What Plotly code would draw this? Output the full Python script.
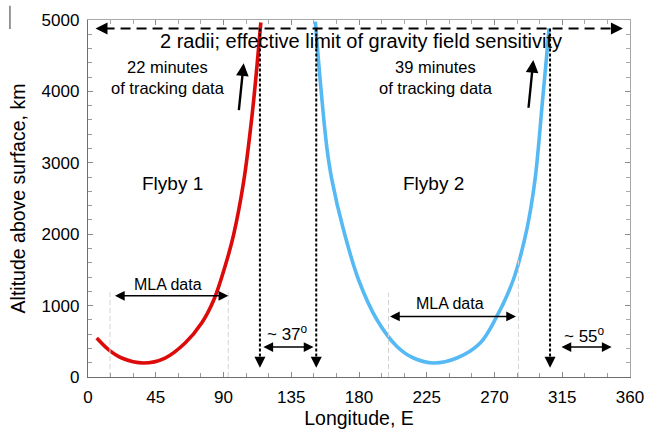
import plotly.graph_objects as go

# ---- data -------------------------------------------------------------
# Flyby 1: spacecraft altitude above surface (km) vs. longitude E (deg)
flyby1_lon = [5.8, 13.6, 22.4, 36.8, 51.2, 64.5, 75.5, 83.6, 91.0, 96.7,
              103.4, 109.0, 112.3, 114.8]
flyby1_alt = [546, 384, 266, 196, 266, 476, 756, 1082, 1548, 1991, 2737, 3671,
              4370, 4965]

# Flyby 2
flyby2_lon = [151.0, 154.3, 158.7, 162.0, 169.7, 179.7, 191.9, 205.2, 216.2,
              229.5, 245.0, 260.5, 271.5, 282.5, 291.4, 296.9, 301.8, 304.7,
              306.2]
flyby2_alt = [4976, 4137, 3205, 2762, 2062, 1362, 802, 428, 266, 196, 266, 476,
              848, 1362, 2062, 2762, 3850, 4510, 4884]

# 2 Mercury radii altitude: effective limit of gravity-field sensitivity
limit_alt = 4880
limit_span = [5.0, 355.3]            # extent of the horizontal limit arrow
crossing_lon = [114.2, 151.6, 306.9]  # where the tracks cross the limit
crossing_tip_alt = 130

# MLA data coverage (longitude span, arrow altitude, guide-line tops)
mla1_lon = [16.9, 93.2]
mla1_guides = [14.6, 93.2]
mla1_alt = 1138
mla1_guide_top = [1200, 1200]
mla2_lon = [199.6, 284.3]
mla2_guides = [199.6, 285.9]
mla2_alt = 848
mla2_guide_top = [1180, 1700]

# Longitude gaps between coverage
gap_spans = [[115.5, 149.8], [313.5, 347.8]]
gap_alt = 420
gap_labels = ["~ 37<sup>o</sup>", "~ 55<sup>o</sup>"]
gap_label_pos = [(132.4, 616), (330.1, 592)]

# Tracking-data arrows: (tail lon, tail alt, tip lon, tip alt)
tracking_arrows = [(100.1, 3717, 103.4, 4394), (292.5, 3750, 295.8, 4440)]

x_ticks = [0, 45, 90, 135, 180, 225, 270, 315, 360]
y_ticks = [0, 1000, 2000, 3000, 4000, 5000]

# ---- styling ------------------------------------------------------------
FONT = "Liberation Sans, Arial, Helvetica, sans-serif"
RED = "#dd0a0a"
BLUE = "#55b9f4"

fig = go.Figure()

# flyby tracks
fig.add_trace(go.Scatter(x=flyby1_lon, y=flyby1_alt, mode="lines",
                         line=dict(color=RED, width=3.6, shape="spline",
                                   smoothing=1.0),
                         hoverinfo="skip"))
fig.add_trace(go.Scatter(x=flyby2_lon, y=flyby2_alt, mode="lines",
                         line=dict(color=BLUE, width=3.6, shape="spline",
                                   smoothing=1.0),
                         hoverinfo="skip"))

# MLA grey guide lines
for guides, tops in ((mla1_guides, mla1_guide_top), (mla2_guides, mla2_guide_top)):
    for gx, top in zip(guides, tops):
        fig.add_trace(go.Scatter(x=[gx, gx], y=[0, top], mode="lines",
                                 line=dict(color="#d4d4d4", width=1, dash="5px,3px"),
                                 hoverinfo="skip"))

# horizontal limit line with arrowheads at both ends
fig.add_trace(go.Scatter(x=[limit_span[0] + 6, limit_span[1] - 6],
                         y=[limit_alt, limit_alt], mode="lines",
                         line=dict(color="black", width=2, dash="10px,6px"),
                         hoverinfo="skip"))
fig.add_trace(go.Scatter(x=[limit_span[0]], y=[limit_alt], mode="markers",
                         marker=dict(symbol="arrow-left", size=12, color="black",
                                     line=dict(width=0)),
                         hoverinfo="skip"))
fig.add_trace(go.Scatter(x=[limit_span[1]], y=[limit_alt], mode="markers",
                         marker=dict(symbol="arrow-right", size=12, color="black",
                                     line=dict(width=0)),
                         hoverinfo="skip"))

# vertical dashed drop lines at the limit crossings
for cx in crossing_lon:
    fig.add_trace(go.Scatter(x=[cx, cx], y=[limit_alt, crossing_tip_alt + 120],
                             mode="lines",
                             line=dict(color="black", width=2, dash="3px,2px"),
                             hoverinfo="skip"))
fig.add_trace(go.Scatter(x=crossing_lon, y=[crossing_tip_alt] * len(crossing_lon),
                         mode="markers",
                         marker=dict(symbol="arrow-down", size=11, color="black",
                                     line=dict(width=0)),
                         hoverinfo="skip"))

# frame: top and right axes carrying mirrored ticks
fig.add_trace(go.Scatter(x=[0], y=[0], xaxis="x2", yaxis="y2", mode="markers",
                         marker=dict(opacity=0), hoverinfo="skip"))

annotations = []


def text(x, y, s, size):
    annotations.append(dict(x=x, y=y, xref="x", yref="y", text=s, showarrow=False,
                            xanchor="center", yanchor="middle", align="center",
                            font=dict(family=FONT, size=size, color="black")))


def double_arrow(x0, x1, y, width=1.5, size=1.3):
    annotations.append(dict(x=x1, y=y, ax=x0, ay=y, xref="x", yref="y",
                            axref="x", ayref="y", text="", showarrow=True,
                            arrowside="end+start", arrowhead=2, startarrowhead=2,
                            arrowsize=size, startarrowsize=size,
                            arrowwidth=width, arrowcolor="black"))


text(181.4, 4700, "2 radii; effective limit of gravity field sensitivity", 20)
text(53.4, 4200, "22 minutes<br>of tracking data", 16.5)
text(231.4, 4200, "39 minutes<br>of tracking data", 16.5)
text(55.9, 2715, "Flyby 1", 19)
text(229.5, 2715, "Flyby 2", 19)
text(53.1, 1301, "MLA data", 16)
text(240.3, 1036, "MLA data", 16)
for (lx, ly), lab in zip(gap_label_pos, gap_labels):
    text(lx, ly, lab, 17)

double_arrow(mla1_lon[0], mla1_lon[1], mla1_alt)
double_arrow(mla2_lon[0], mla2_lon[1], mla2_alt)
for g in gap_spans:
    double_arrow(g[0], g[1], gap_alt)

for tx, ty, hx, hy in tracking_arrows:
    annotations.append(dict(x=hx, y=hy, ax=tx, ay=ty, xref="x", yref="y",
                            axref="x", ayref="y", text="", showarrow=True,
                            arrowhead=2, arrowsize=1.05, arrowwidth=2.4,
                            arrowcolor="black"))

axis_common = dict(showgrid=False, zeroline=False, ticks="inside", ticklen=5,
                   tickwidth=1, tickcolor="#8a8a8a", showline=True,
                   linewidth=1.3, automargin=False)

fig.update_layout(
    width=648, height=429,
    margin=dict(l=88, r=18, t=20, b=52, pad=0),
    paper_bgcolor="white", plot_bgcolor="white",
    showlegend=False,
    font=dict(family=FONT, color="black"),
    annotations=annotations,
    xaxis=dict(range=[0, 360], tickvals=x_ticks, linecolor="#6e6e6e",
               tickfont=dict(size=17, family=FONT), ticklabelstandoff=4,
               minor=dict(dtick=15, tick0=0, ticks="inside", ticklen=4,
                          tickcolor="#9a9a9a"),
               title=dict(text="Longitude, E", font=dict(size=19.5, family=FONT),
                          standoff=13),
               **axis_common),
    yaxis=dict(range=[0, 5000], tickvals=y_ticks, linecolor="#6e6e6e",
               tickfont=dict(size=17, family=FONT), ticklabelstandoff=4,
               minor=dict(dtick=200, tick0=0, ticks="inside", ticklen=4,
                          tickcolor="#9a9a9a"),
               title=dict(text="Altitude above surface, km",
                          font=dict(size=19.5, family=FONT), standoff=10),
               **axis_common),
    xaxis2=dict(range=[0, 360], overlaying="x", side="top", anchor="y2",
                tickvals=x_ticks, showticklabels=False, linecolor="#a8a8a8",
                minor=dict(dtick=15, tick0=0, ticks="inside", ticklen=4,
                           tickcolor="#a8a8a8"),
                **axis_common),
    yaxis2=dict(range=[0, 5000], overlaying="y", side="right", anchor="x2",
                tickvals=y_ticks, showticklabels=False, linecolor="#a8a8a8",
                minor=dict(dtick=200, tick0=0, ticks="inside", ticklen=4,
                           tickcolor="#a8a8a8"),
                **axis_common),
    shapes=[dict(type="line", xref="paper", yref="paper",
                 x0=-0.144, x1=-0.144, y0=0.975, y1=1.04,
                 line=dict(color="#555555", width=1.2))],
)

fig.write_html("out.html")
